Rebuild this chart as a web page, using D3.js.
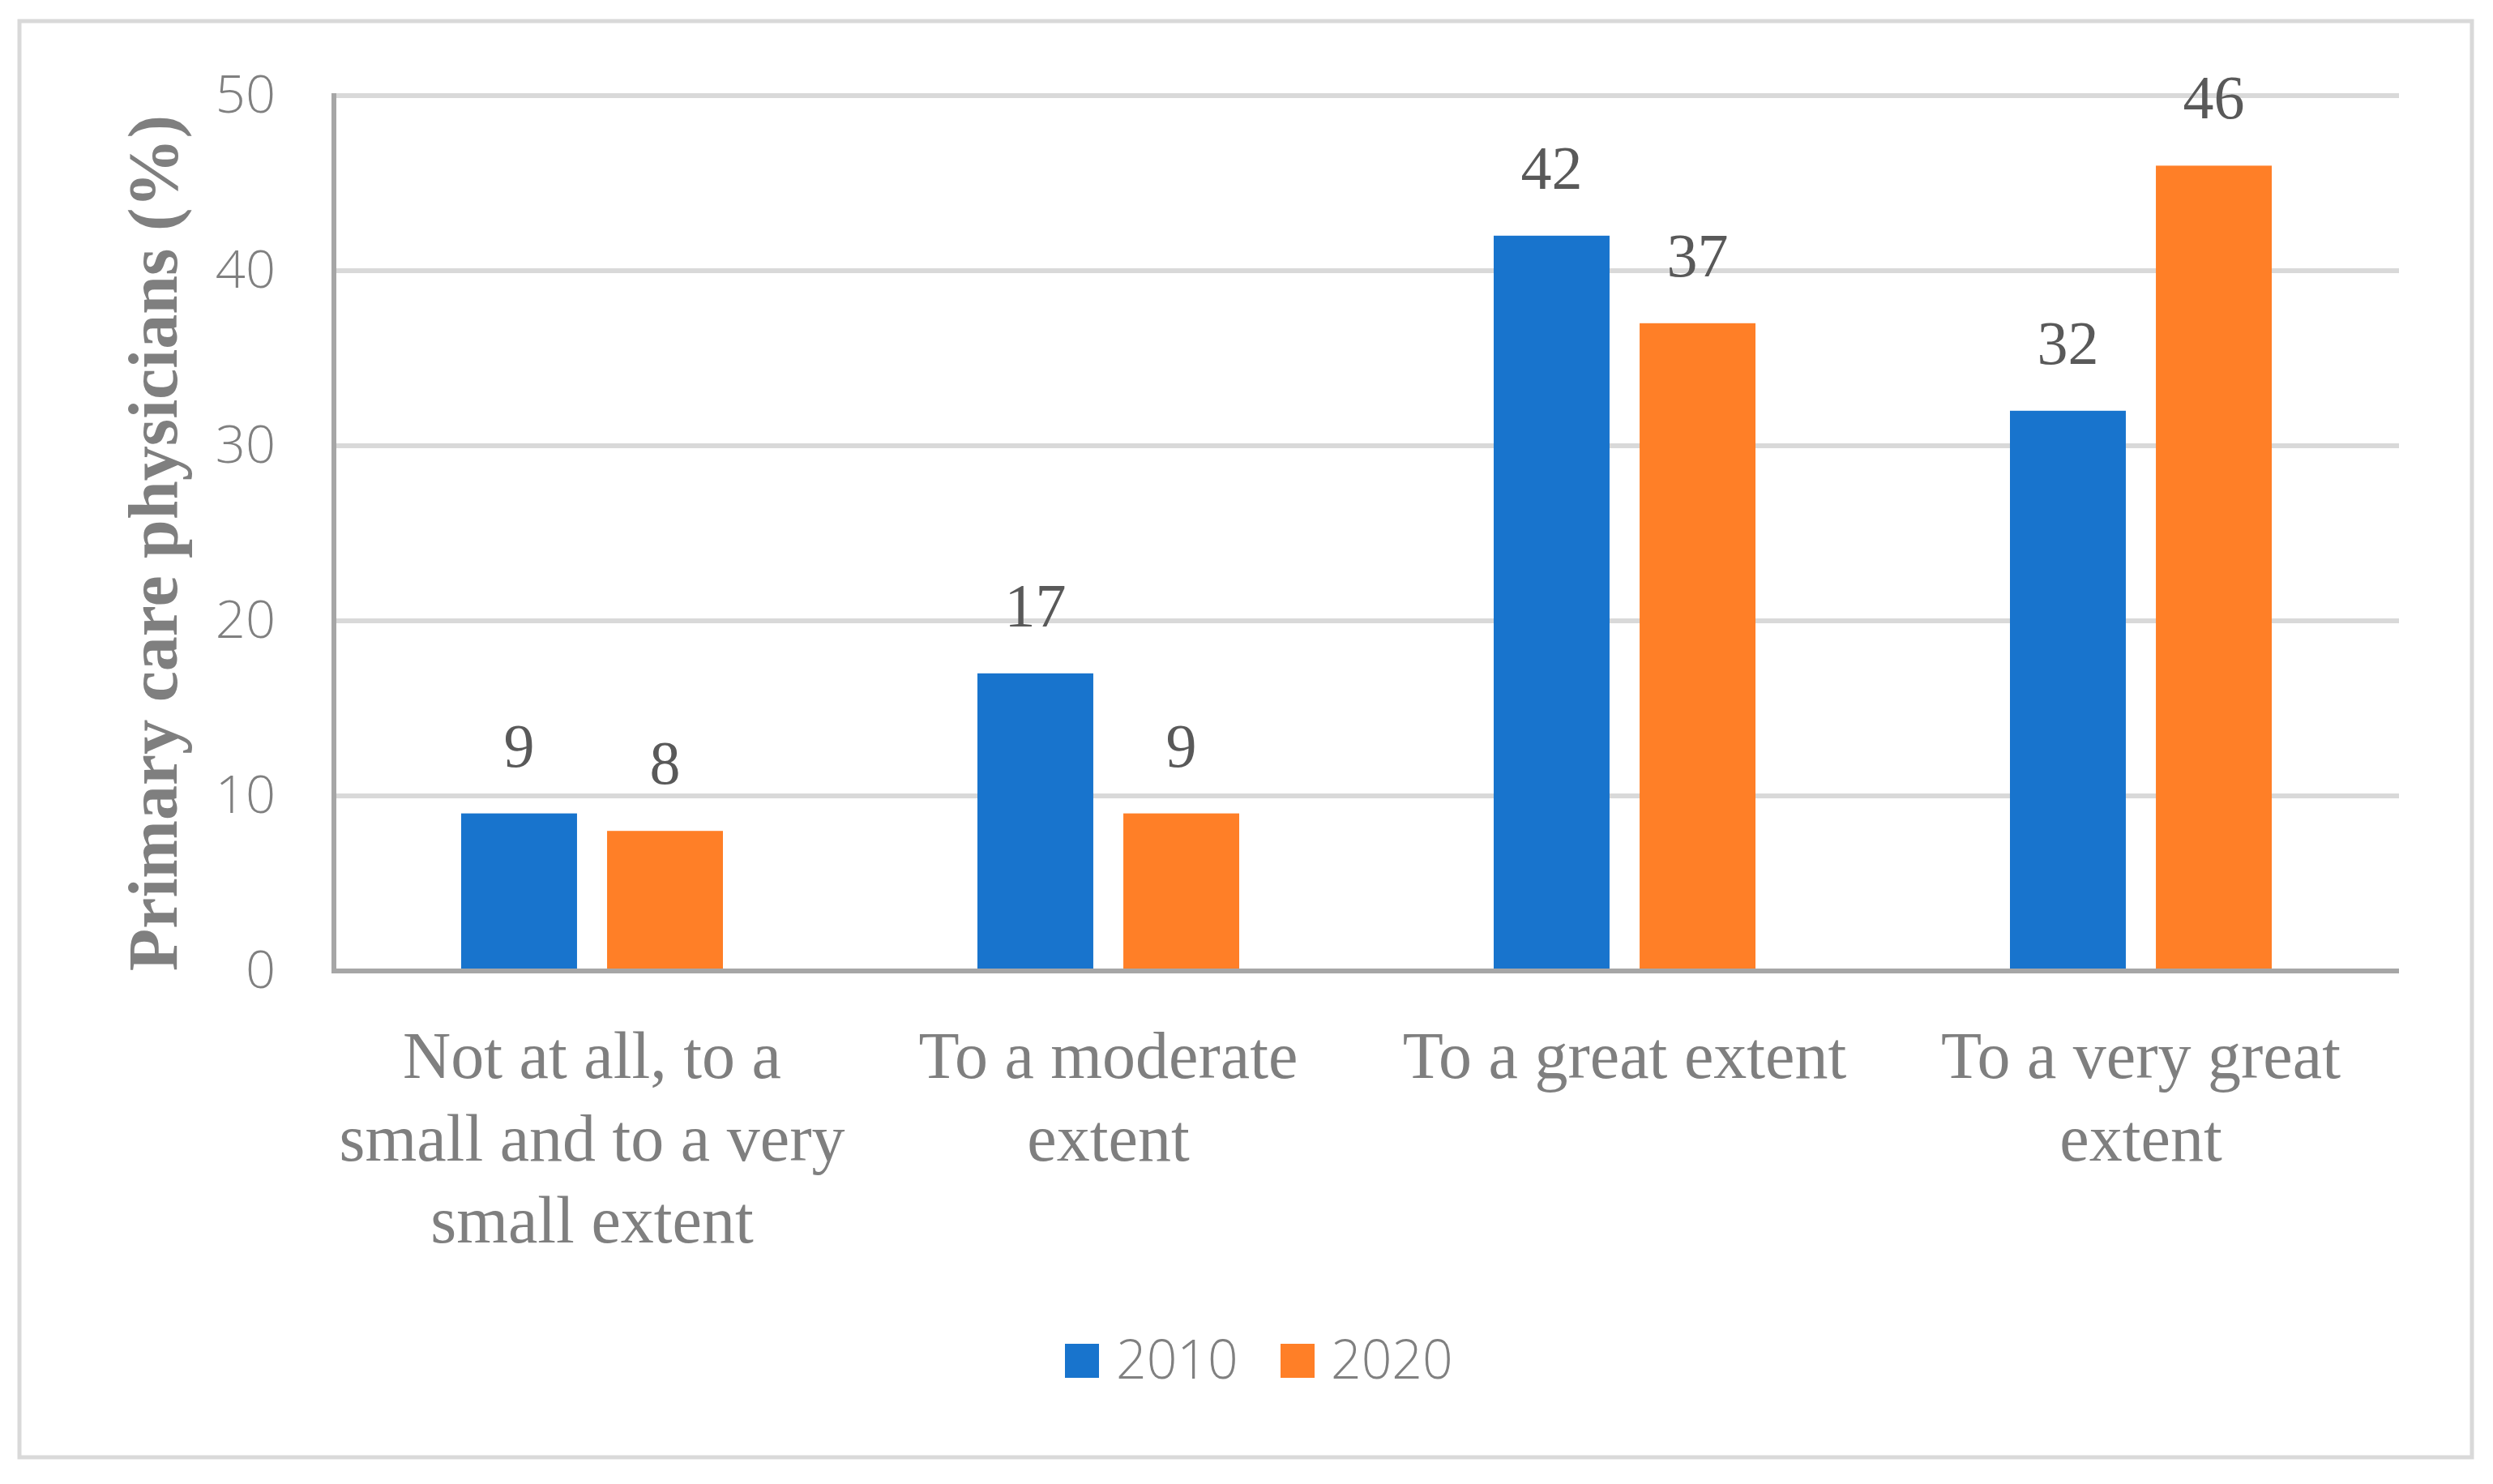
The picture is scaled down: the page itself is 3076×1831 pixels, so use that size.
<!DOCTYPE html>
<html>
<head>
<meta charset="utf-8">
<script src="https://cdn.jsdelivr.net/npm/d3@7/dist/d3.min.js"></script>
<style>
  html, body { margin: 0; padding: 0; background: #ffffff; }
  svg { display: block; }
</style>
</head>
<body>
<svg id="chart" width="3076" height="1831"></svg>
<script>
// ---- data ----
const categories = ["Not at all, to a small and to a very small extent", "To a moderate extent", "To a great extent", "To a very great extent"];
const categoryLines = [
  ["Not at all, to a", "small and to a very", "small extent"],
  ["To a moderate", "extent"],
  ["To a great extent"],
  ["To a very great", "extent"]
];
const seriesNames = ["2010", "2020"];
const values2010 = [9, 17, 42, 32];
const values2020 = [8, 9, 37, 46];
const yTicks = [0, 10, 20, 30, 40, 50];
const yTitle = "Primary care physicians (%)";

const colors = { "2010": "#1874cd", "2020": "#ff7f27" };

// ---- layout ----
const plot = { left: 412, right: 2960, top: 118, bottom: 1198 };

const svg = d3.select("#chart");

// outer frame
svg.append("rect")
  .attr("x", 24).attr("y", 26)
  .attr("width", 3026).attr("height", 1772)
  .attr("fill", "#ffffff")
  .attr("stroke", "#d9d9d9").attr("stroke-width", 5);

const x = d3.scaleBand().domain(categories).range([plot.left, plot.right]).padding(0);
const xSub = d3.scaleBand().domain(seriesNames).range([0, x.bandwidth()])
  .paddingInner(0.206).paddingOuter(0.872);
const y = d3.scaleLinear().domain([0, 50]).range([plot.bottom, plot.top]);

// gridlines
svg.append("g").selectAll("line")
  .data(yTicks.filter(d => d > 0))
  .join("line")
  .attr("x1", plot.left).attr("x2", plot.right)
  .attr("y1", d => y(d)).attr("y2", d => y(d))
  .attr("stroke", "#d9d9d9").attr("stroke-width", 6);

// y tick labels via axis
const yAxis = d3.axisLeft(y).tickValues(yTicks).tickSize(0).tickPadding(72);
const gy = svg.append("g").attr("transform", `translate(${plot.left},0)`).call(yAxis);
gy.select(".domain").remove();
gy.selectAll("text")
  .attr("fill", "#808080")
  .style("font-family", "'Open Sans', 'Noto Sans', sans-serif")
  .style("font-weight", "300")
  .style("font-size", "65px");

// data
const data = categories.map((c, i) => ({ cat: c, vals: [
  { s: "2010", v: values2010[i] },
  { s: "2020", v: values2020[i] }
]}));

const groups = svg.append("g").selectAll("g")
  .data(data).join("g")
  .attr("transform", d => `translate(${x(d.cat)},0)`);

groups.selectAll("rect")
  .data(d => d.vals).join("rect")
  .attr("x", d => xSub(d.s))
  .attr("width", xSub.bandwidth())
  .attr("y", d => y(d.v))
  .attr("height", d => y(0) - y(d.v))
  .attr("fill", d => colors[d.s]);

groups.selectAll("text.val")
  .data(d => d.vals).join("text")
  .attr("class", "val")
  .attr("x", d => xSub(d.s) + xSub.bandwidth() / 2)
  .attr("y", d => y(d.v) - 58)
  .attr("text-anchor", "middle")
  .attr("fill", "#595959")
  .style("font-family", "'Liberation Serif', 'DejaVu Serif', serif")
  .style("font-size", "76px")
  .text(d => d.v);

// axes lines
svg.append("line")
  .attr("x1", plot.left).attr("x2", plot.left)
  .attr("y1", plot.top - 3).attr("y2", plot.bottom + 3)
  .attr("stroke", "#a6a6a6").attr("stroke-width", 6);
svg.append("line")
  .attr("x1", plot.left - 3).attr("x2", plot.right)
  .attr("y1", plot.bottom).attr("y2", plot.bottom)
  .attr("stroke", "#a6a6a6").attr("stroke-width", 6);

// category labels
const catLabels = svg.append("g").selectAll("text")
  .data(categories).join("text")
  .attr("x", d => x(d) + x.bandwidth() / 2)
  .attr("y", 1330)
  .attr("text-anchor", "middle")
  .attr("fill", "#7f7f7f")
  .style("font-family", "'Liberation Serif', 'DejaVu Serif', serif")
  .style("font-size", "82px");
catLabels.each(function(d, i) {
  const t = d3.select(this);
  categoryLines[i].forEach((line, j) => {
    t.append("tspan")
      .attr("x", x(d) + x.bandwidth() / 2)
      .attr("dy", j === 0 ? 0 : 101.5)
      .text(line);
  });
});

// y axis title
svg.append("text")
  .attr("transform", "translate(218,670) rotate(-90)")
  .attr("text-anchor", "middle")
  .attr("fill", "#7f7f7f")
  .style("font-family", "'Liberation Serif', 'DejaVu Serif', serif")
  .style("font-weight", "bold")
  .style("font-size", "86px")
  .text(yTitle);

// legend
const legendItems = [
  { s: "2010", sx: 1314, tx: 1377 },
  { s: "2020", sx: 1580, tx: 1642 }
];
const lg = svg.append("g");
lg.selectAll("rect").data(legendItems).join("rect")
  .attr("x", d => d.sx).attr("y", 1658)
  .attr("width", 42).attr("height", 42)
  .attr("fill", d => colors[d.s]);
lg.selectAll("text").data(legendItems).join("text")
  .attr("x", d => d.tx).attr("y", 1701)
  .attr("fill", "#808080")
  .style("font-family", "'Open Sans', 'Noto Sans', sans-serif")
  .style("font-weight", "300")
  .style("font-size", "66px")
  .text(d => d.s);
</script>
</body>
</html>
